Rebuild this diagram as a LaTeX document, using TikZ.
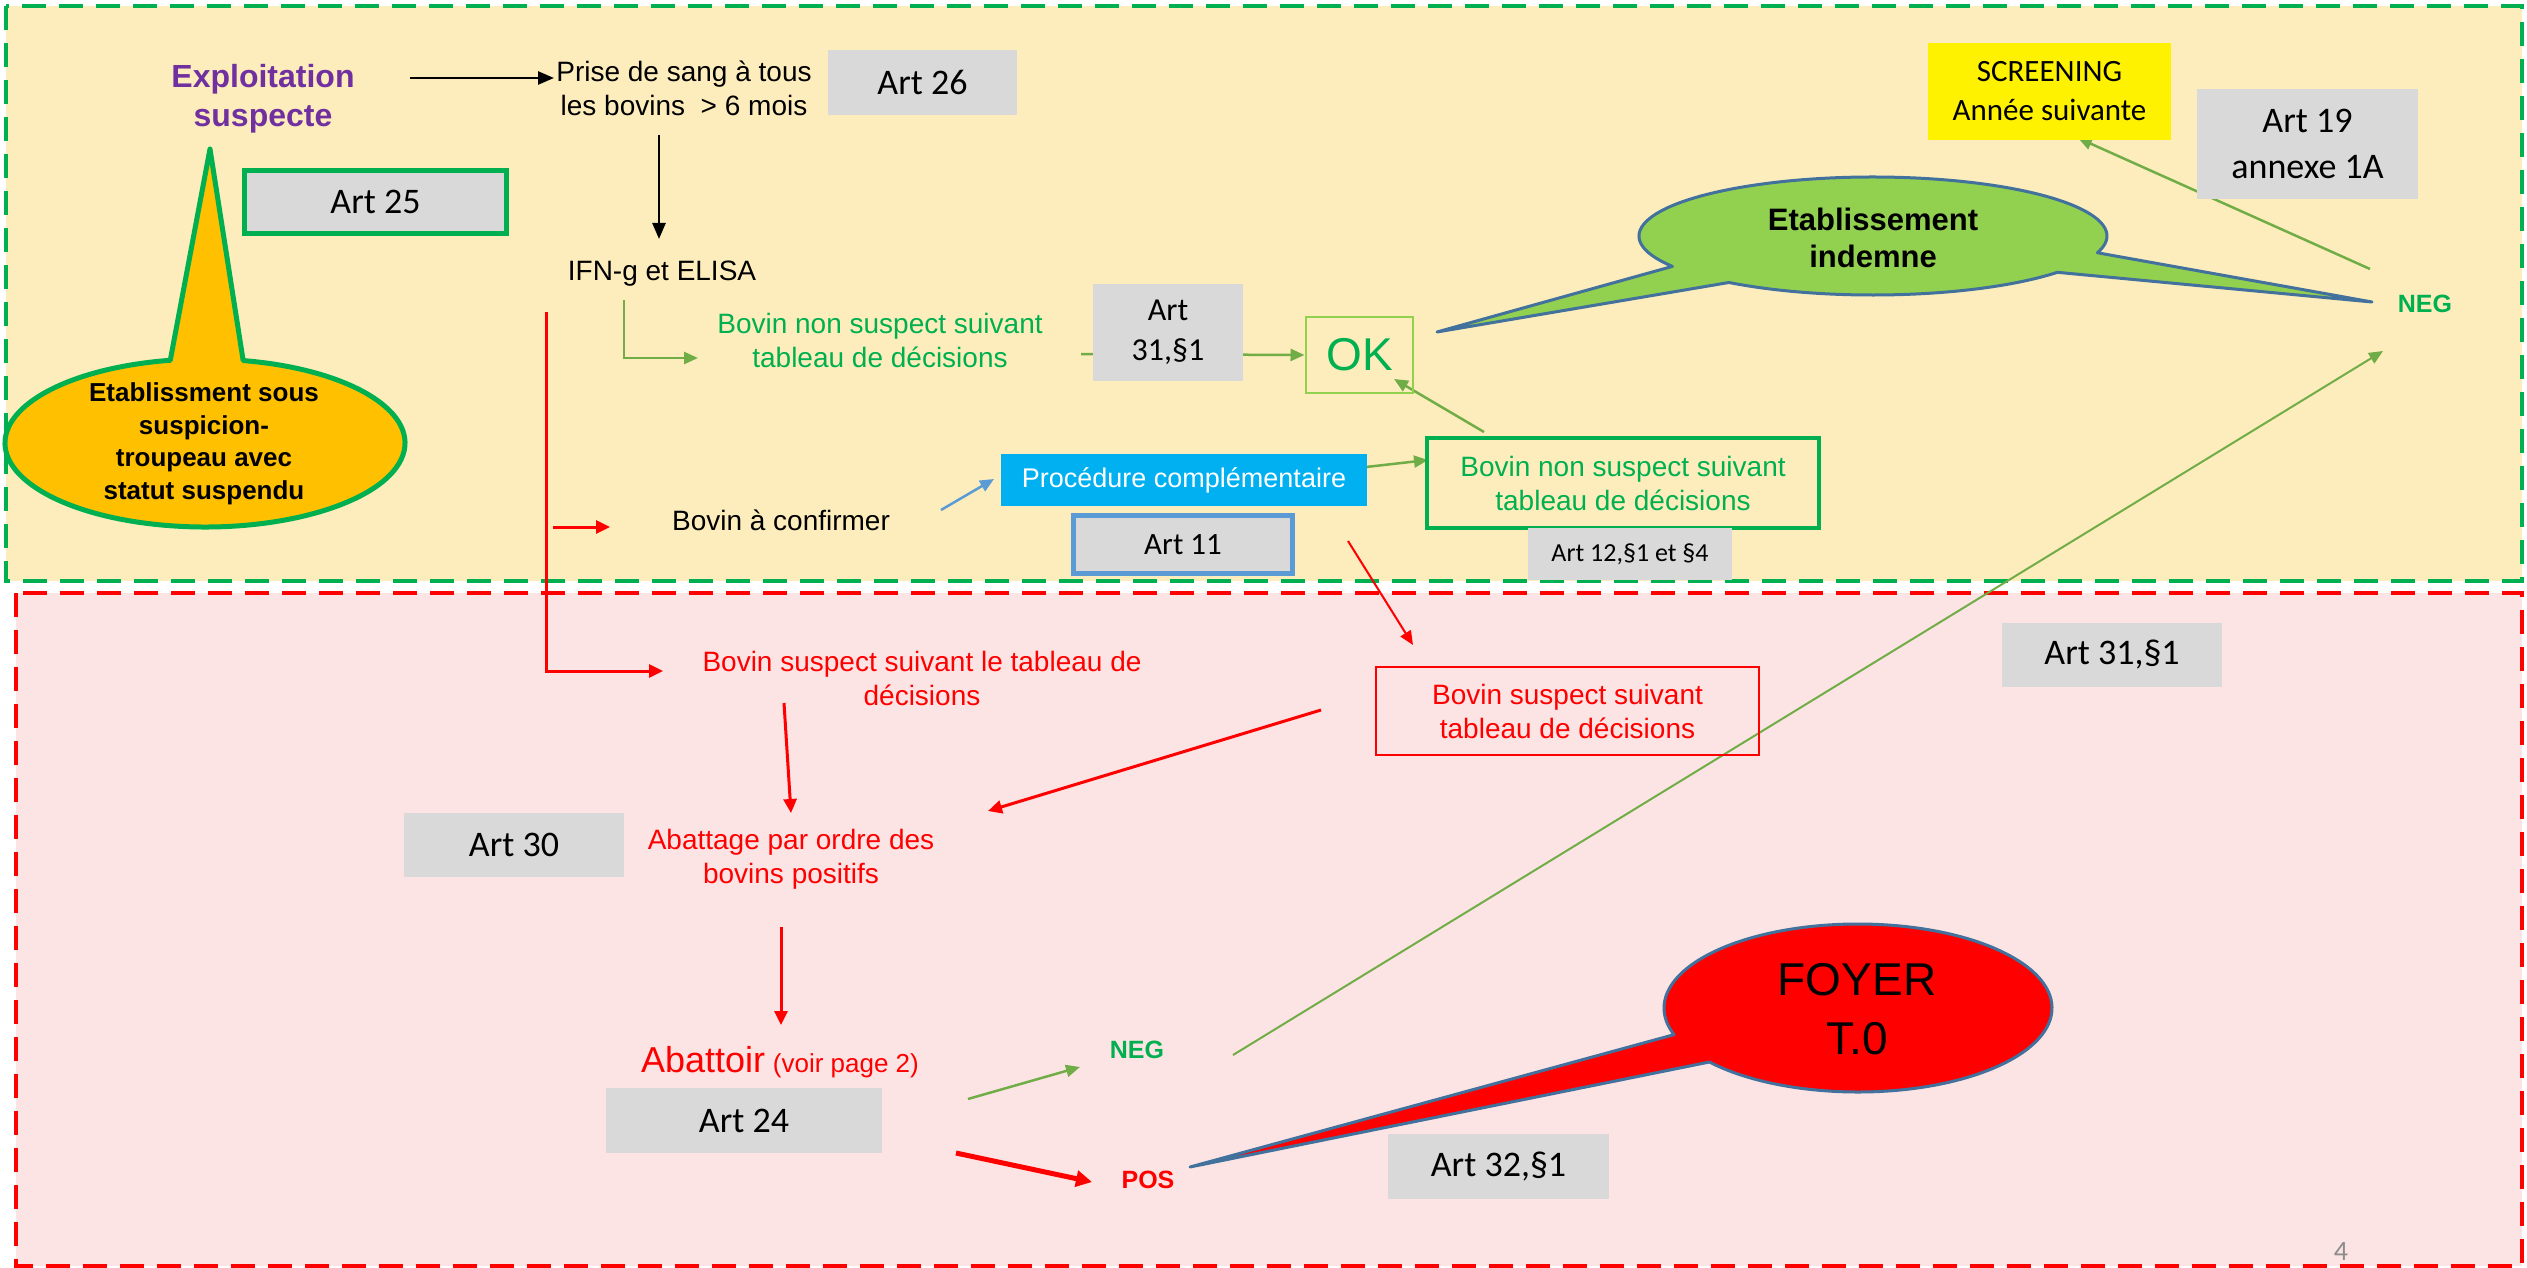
\documentclass[tikz,border=0pt]{standalone}
\usepackage{fontspec}
\setmainfont{Liberation Sans}
\newfontfamily\calfont{Carlito}
\usetikzlibrary{arrows.meta,calc}
\pgfdeclarelayer{back}
\pgfdeclarelayer{mid}
\pgfsetlayers{back,mid,main}
\definecolor{dgreen}{HTML}{00B050}
\definecolor{arrgreen}{HTML}{70AD47}
\definecolor{okgreen}{HTML}{92D050}
\definecolor{purp}{HTML}{7030A0}
\definecolor{artgrey}{HTML}{D9D9D9}
\definecolor{procblue}{HTML}{00B0F0}
\definecolor{artblue}{HTML}{5B9BD5}
\definecolor{callyel}{HTML}{FFC000}
\definecolor{callgreen}{HTML}{92D050}
\definecolor{cborder}{HTML}{41719C}
\definecolor{pgrey}{HTML}{8C8C8C}
\definecolor{bgyel}{HTML}{FEEDBC}
\definecolor{bgpink}{HTML}{FDE4E4}
\begin{document}
\begin{tikzpicture}[x=1pt,y=-1pt,
 txt/.style={inner sep=0pt,align=center,font=\fontsize{28}{34}\selectfont},
 abox/.style={fill=artgrey,inner sep=0pt,align=center,font=\calfont\fontsize{36}{44}\selectfont},
 blk/.style={draw=black,line width=2.5pt,-{Triangle[length=16pt,width=13pt]}},
 garr/.style={draw=arrgreen,line width=2.5pt,-{Triangle[length=14pt,width=12pt]}},
 rarr/.style={draw=red,line width=3pt,-{Triangle[length=14pt,width=13pt]}},
 frame/.style={line width=3.5pt,dash pattern=on 24pt off 13pt}]
\useasboundingbox (0,0) rectangle (2527,1268);
\begin{pgfonlayer}{back}
\fill[white] (0,0) rectangle (2527,1268);
\fill[bgyel] (6,6) rectangle (2522,581);
\draw[frame,draw=dgreen] (6,6) rectangle (2522,581);
\fill[bgpink] (16,593) rectangle (2522,1266);
\draw[frame,draw=red] (16,593) rectangle (2522,1266);
\end{pgfonlayer}

% callouts
\filldraw[fill=callyel,draw=dgreen,line width=5pt,line join=round]
 ($(205,443)+(-100:200 and 84)$) -- (210,149) -- ($(205,443)+(-79:200 and 84)$)
 arc[start angle=-79,end angle=260,x radius=200,y radius=84] -- cycle;
\filldraw[fill=callgreen,draw=cborder,line width=3pt,line join=round]
 ($(1873,236)+(16.5:234 and 59)$) -- (2372,302) -- ($(1873,236)+(38:234 and 59)$)
 arc[start angle=38,end angle=128,x radius=234,y radius=59] -- (1437,332) --
 ($(1873,236)+(149:234 and 59)$)
 arc[start angle=149,end angle=376.5,x radius=234,y radius=59] -- cycle;
\filldraw[fill=red,draw=cborder,line width=3pt,line join=round]
 ($(1858,1008)+(161.5:194 and 84)$) -- (1190,1167) -- ($(1858,1008)+(140:194 and 84)$)
 arc[start angle=140,end angle=-198.5,x radius=194,y radius=84] -- cycle;

% nodes
\node[txt,text=purp,font=\bfseries\fontsize{32}{39}\selectfont] (expl) at (263,99) {Exploitation\\suspecte};
\node[txt] (prise) at (684,88) {Prise de sang à tous\\les bovins~~> 6 mois};
\node[abox,minimum width=189pt,minimum height=65pt] (art26) at (922.5,82.5) {Art 26};
\node[txt] (ifn) at (662,274) {IFN-g et ELISA};
\node[abox,draw=dgreen,line width=5pt,minimum width=262pt,minimum height=63pt] (art25) at (375.5,202) {Art 25};
\node[txt,font=\bfseries\fontsize{26}{32.5}\selectfont] (etsous) at (204,444) {Etablissment sous\\suspicion-\\troupeau avec\\statut suspendu};
\node[txt,text=dgreen] (nsus1) at (880,340) {Bovin non suspect suivant\\tableau de décisions};
\node[abox,font=\calfont\fontsize{32}{40}\selectfont,minimum width=150pt,minimum height=97pt] (art31a) at (1168,332.5) {Art\\31,§1};
\node[draw=okgreen,line width=2pt,text=dgreen,font=\fontsize{46}{52}\selectfont,minimum width=107pt,minimum height=76pt,inner sep=0pt] (ok) at (1359.5,355) {OK};
\node[txt] (conf) at (781,520) {Bovin à confirmer};
\node[fill=procblue,text=white,font=\fontsize{27}{32}\selectfont,minimum width=366pt,minimum height=52pt,inner sep=0pt] (proc) at (1184,480) {Procédure complémentaire};
\node[abox,draw=artblue,line width=5pt,font=\calfont\fontsize{31}{38}\selectfont,minimum width=219pt,minimum height=58pt] (art11) at (1183,544.5) {Art 11};
\node[txt,draw=dgreen,line width=4pt,text=dgreen,minimum width=392pt,minimum height=90pt] (nsus2) at (1623,483) {Bovin non suspect suivant\\tableau de décisions};
\node[abox,font=\calfont\fontsize{26}{32}\selectfont,minimum width=204pt,minimum height=52pt] (art12) at (1630,554) {Art 12,§1 et §4};
\node[fill=yellow,inner sep=0pt,align=center,font=\calfont\fontsize{31}{39}\selectfont,minimum width=243pt,minimum height=97pt] (scr) at (2049.5,91.5) {SCREENING\\Année suivante};
\node[abox,font=\calfont\fontsize{36}{46}\selectfont,minimum width=221pt,minimum height=110pt] (art19) at (2307.5,144) {Art 19\\annexe 1A};
\node[txt,font=\bfseries\fontsize{31}{37}\selectfont] (indem) at (1873,238) {Etablissement\\indemne};
\node[txt,text=dgreen,font=\bfseries\fontsize{25}{30}\selectfont] (negR) at (2425,304) {NEG};
\node[abox,minimum width=220pt,minimum height=64pt] (art31b) at (2112,655) {Art 31,§1};
\node[txt,draw=red,line width=2pt,text=red,minimum width=383pt,minimum height=88pt] (sus2) at (1567.5,711) {Bovin suspect suivant\\tableau de décisions};
\node[txt,text=red] (sus1) at (922,678) {Bovin suspect suivant le tableau de\\décisions};
\node[abox,minimum width=220pt,minimum height=64pt] (art30) at (514,845) {Art 30};
\node[txt,text=red] (abat) at (791,859) {Abattage par ordre des\\bovins positifs};
\node[txt,text=red] (abatt) at (780,1062) {{\fontsize{36}{44}\selectfont Abattoir} {\fontsize{26}{30}\selectfont (voir page 2)}};
\node[abox,minimum width=276pt,minimum height=65pt] (art24) at (744,1120.5) {Art 24};
\node[txt,text=dgreen,font=\bfseries\fontsize{25}{30}\selectfont] (negL) at (1137,1050) {NEG};
\node[txt,text=red,font=\bfseries\fontsize{25}{30}\selectfont] (posL) at (1148,1180) {POS};
\node[txt,font=\fontsize{46}{59}\selectfont] (foyer) at (1857,1009) {FOYER\\T.0};
\node[abox,minimum width=221pt,minimum height=65pt] (art32) at (1498.5,1166.5) {Art 32,§1};
\node[txt,text=pgrey,font=\calfont\fontsize{28}{34}\selectfont] (pnum) at (2341,1251) {4};

% connectors
\begin{pgfonlayer}{mid}
\draw[blk] ($(expl.center)+(147,-21)$) -- ($(prise.center)+(-130,-10)$);
\draw[blk] ($(prise.center)+(-25,47)$) -- ($(ifn.center)+(-3,-35)$);
\draw[garr] ($(ifn.center)+(-38,26)$) |- ($(nsus1.center)+(-182,18)$);
\draw[garr] ($(nsus1.center)+(201,14)$) -- ($(ok.center)+(-55,0)$);
\draw[rarr] ($(ifn.center)+(-116,38)$) |- ($(sus1.center)+(-259,-7)$);
\draw[rarr] ($(conf.center)+(-228,7)$) -- ($(conf.center)+(-171,7)$);
\draw[draw=artblue,line width=2.5pt,-{Triangle[length=14pt,width=12pt]}] ($(conf.center)+(160,-10)$) -- ($(proc.center)+(-190,-1)$);
\draw[garr] ($(proc.center)+(182,-13)$) -- ($(nsus2.center)+(-195,-23)$);
\draw[garr] ($(nsus2.center)+(-139,-51)$) -- ($(ok.center)+(34.5,24)$);
\draw[draw=red,line width=2pt,-{Triangle[length=14pt,width=12pt]}] ($(art11.center)+(165,-3.5)$) -- ($(sus2.center)+(-154.5,-66)$);
\draw[rarr] ($(sus2.center)+(-246.5,-1)$) -- ($(abat.center)+(197,-48)$);
\draw[rarr] ($(sus1.center)+(-138,25)$) -- ($(abat.center)+(0,-46)$);
\draw[rarr] ($(abat.center)+(-10,68)$) -- ($(abatt.center)+(1,-37)$);
\draw[garr] ($(art24.center)+(224,-21.5)$) -- ($(negL.center)+(-57,17)$);
\draw[draw=red,line width=5pt,-{Triangle[length=16pt,width=16pt]}] ($(art24.center)+(212,32.5)$) -- ($(posL.center)+(-56,2)$);
\draw[draw=arrgreen,line width=2pt,-{Triangle[length=14pt,width=12pt]}] ($(negL.center)+(96,5)$) -- ($(negR.center)+(-42,47)$);
\draw[garr] ($(negR.center)+(-55,-35)$) -- ($(scr.center)+(28.5,46.5)$);
\end{pgfonlayer}
\end{tikzpicture}
\end{document}
